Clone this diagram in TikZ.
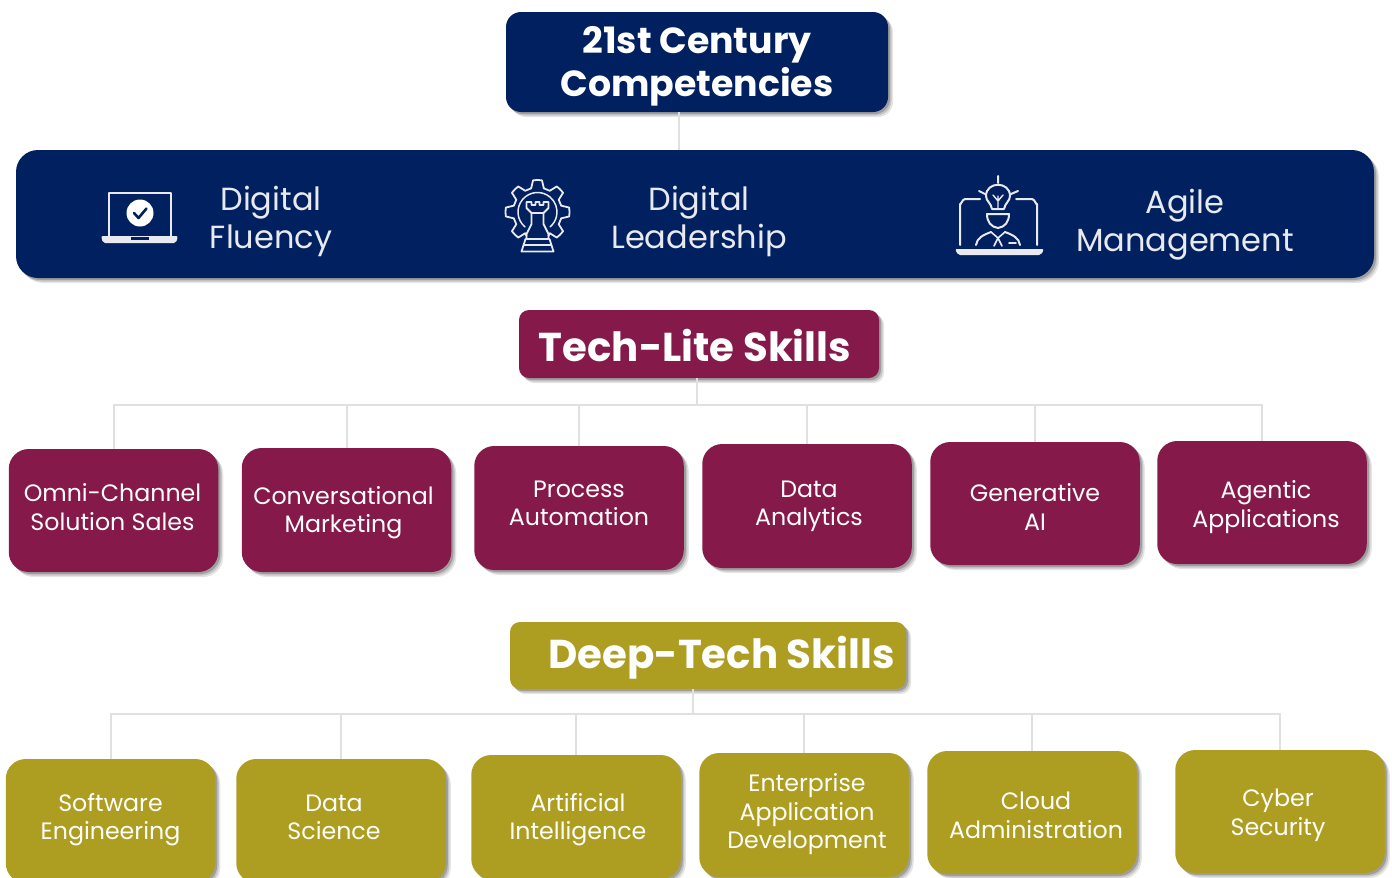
\documentclass[tikz,border=0pt]{standalone}
\usepackage{fontspec}
\setmainfont{Poppins}
\usetikzlibrary{shadows,calc}
\definecolor{navy}{HTML}{00205F}
\definecolor{maroon}{HTML}{85194A}
\definecolor{olive}{HTML}{AD9D20}
\definecolor{linkgrey}{HTML}{E0E0E0}
\definecolor{soft}{HTML}{E8EAF0}
% text lines inside a box, moved by dx,dy from the box centre
\newcommand\lines[3]{\hspace*{#1}\raisebox{#2}[0pt][0pt]{\begin{tabular}{@{}c@{}}#3\end{tabular}}}
\tikzset{
  softshadow/.style={
    general shadow={fill=black,opacity=.10,shadow xshift=5pt,shadow yshift=-5pt},
    general shadow={fill=black,opacity=.14,shadow xshift=3.5pt,shadow yshift=-3.5pt},
    general shadow={fill=black,opacity=.20,shadow xshift=2pt,shadow yshift=-2pt}},
  panel/.style={softshadow,rounded corners=#1,inner sep=0pt,outer sep=0pt,align=center,text=white},
  topbox/.style={panel=15pt,fill=navy,font=\fontsize{36.3}{43}\selectfont\bfseries},
  bandbox/.style={panel=22pt,fill=navy},
  bandtext/.style={text=soft,align=center,font=\fontsize{32}{38}\selectfont},
  headbox/.style={panel=10pt,font=\fontsize{40.3}{46}\selectfont\bfseries},
  skillbox/.style={panel=20pt,minimum width=209.5pt,font=\fontsize{23.7}{28.5}\selectfont},
  link/.style={draw=linkgrey,line width=2pt},
  icon/.style={draw=soft,line width=2pt,line cap=round,line join=round}
}
\begin{document}
\begin{tikzpicture}[x=1pt,y=-1pt]
\useasboundingbox (0,0) rectangle (1392,878);
% main boxes
\node[topbox,minimum width=382pt,minimum height=100pt] (top) at (697,62) {\lines{0pt}{-10.5pt}{21st Century\\Competencies}};
\node[bandbox,minimum width=1358pt,minimum height=128pt] (band) at (695,214) {};
\node[bandtext] (fluency) at (271,221) {Digital\\Fluency};
\node[bandtext] (leader) at (699,221) {Digital\\Leadership};
\node[bandtext] (agile) at (1185,225) {Agile\\Management};
\node[headbox,fill=maroon,minimum width=360pt,minimum height=68pt] (lite) at (699,344) {\hspace*{-8pt}\lines{0pt}{-14pt}{Tech-Lite Skills}};
\node[headbox,fill=olive,minimum width=396pt,minimum height=67pt] (deep) at (708,655.5) {\lines{27pt}{-10pt}{Deep-Tech Skills}};
% tech-lite row
\begin{scope}[every node/.append style={skillbox,fill=maroon}]
\node[minimum height=123pt] (l1) at (113.5,510.5) {\lines{-2pt}{-6pt}{Omni-Channel\\Solution Sales}};
\node[minimum height=124pt] (l2) at (346.5,510) {\lines{-6pt}{-9pt}{Conversational\\Marketing}};
\node[minimum height=124pt] (l3) at (579,508) {\lines{0pt}{-4pt}{Process\\Automation}};
\node[minimum height=124pt] (l4) at (807,506) {\lines{4pt}{-6pt}{Data\\Analytics}};
\node[minimum height=123pt] (l5) at (1035,503.5) {\lines{0pt}{-13pt}{Generative\\AI}};
\node[minimum height=123pt] (l6) at (1262,502.5) {\lines{8pt}{-11pt}{Agentic\\Applications}};
\end{scope}
% deep-tech row
\begin{scope}[every node/.append style={skillbox,fill=olive}]
\node[minimum height=124pt] (d1) at (110.5,821) {\lines{0pt}{-5pt}{Software\\Engineering}};
\node[minimum height=124pt] (d2) at (341,821) {\lines{-14pt}{-5pt}{Data\\Science}};
\node[minimum height=124pt] (d3) at (576,817) {\lines{4pt}{-9pt}{Artificial\\Intelligence}};
\node[minimum height=124pt] (d4) at (804,815) {\lines{6pt}{-6pt}{Enterprise\\Application\\Development}};
\node[minimum height=123pt] (d5) at (1032,812.5) {\lines{8pt}{-12pt}{Cloud\\Administration}};
\node[minimum height=123pt] (d6) at (1280,811.5) {\lines{-4pt}{-10pt}{Cyber\\Security}};
\end{scope}
% connectors
\coordinate (toplink) at (679,130);
\coordinate (litebus) at (697,405);
\coordinate (deepbus) at (693,714);
\draw[link] (top.south -| toplink) -- (band.north -| toplink);
\draw[link] (lite.south -| litebus) -- (litebus);
\draw[link] (deep.south -| deepbus) -- (deepbus);
\foreach \n in {l1,l2,l3,l4,l5,l6} \draw[link] (litebus) -| (\n.north);
\foreach \n in {d1,d2,d3,d4,d5,d6} \draw[link] (deepbus) -| (\n.north);
% laptop icon
\draw[icon,line width=2.8pt] (109,236) -- (109,193) -- (171,193) -- (171,236);
\fill[soft,rounded corners=2pt] (101,236) -- (178,236) -- (176,243) -- (103,243) -- cycle;
\fill[navy] (131,237) rectangle (149,239.5);
\fill[white] (140,213) circle (13.5);
\draw[navy,line width=2.6pt,line cap=round,line join=round] (134,213) -- (138.5,218) -- (146.5,208.5);
% gear and rook icon
\begin{scope}[shift={(537.5,212)}]
\draw[icon,line width=1.8pt]
  (-11,24) \foreach \a in {135,180,225,270,315,360,405}{
    -- ({\a-15}:24.5) -- ({\a-8}:32) arc[start angle={\a-8},end angle={\a+8},radius=32] -- ({\a+15}:24.5)
  } -- (11,24);
\draw[icon,line width=1.5pt] (130:19.5) arc[start angle=130,end angle=410,radius=19.5];
\draw[icon,line width=1.8pt] (-11,-10) -- (-11,-4) -- (-6,1) -- (-6,12) -- (-11,22) -- (-11,27) -- (11,27) -- (11,22) -- (6,12) -- (6,1) -- (11,-4) -- (11,-10) -- (6,-10) -- (6,-7) -- (2,-7) -- (2,-10) -- (-2,-10) -- (-2,-7) -- (-6,-7) -- (-6,-10) -- cycle;
\draw[icon,line width=1.8pt] (-12,27) -- (-16,39.5) -- (16,39.5) -- (12,27) (-13,33) -- (13,33) (-6,1) -- (6,1);
\end{scope}
% leader icon
\draw[icon] (980,199) -- (965,199) to[out=180,in=-90] (960,204) -- (960,245);
\draw[icon] (1016,199) -- (1032,199) to[out=0,in=-90] (1037,204) -- (1037,245);
\fill[soft,rounded corners=2pt] (955,249) -- (1044,249) -- (1041,255) -- (958,255) -- cycle;
\draw[icon] (998,176) -- (998,183) (979,191) -- (985,194) (1018,191) -- (1011,194);
\draw[icon] (992,209) .. controls (991,203) and (986,201) .. (986,196) .. controls (986,181) and (1010,181) .. (1010,196) .. controls (1010,201) and (1005,203) .. (1004,209) -- cycle;
\draw[icon,line width=1.4pt] (998,209) -- (998,196) (998,201) -- (993,195) (998,201) -- (1003,195);
\draw[icon] (987,214) -- (1009,214) .. controls (1009,222) and (1005,227) .. (998,228) .. controls (991,227) and (987,222) .. (987,214) -- cycle;
\draw[icon] (976,245) .. controls (977,238) and (983,235) .. (991,232) (1020,245) .. controls (1019,238) and (1013,235) .. (1005,232);
\draw[icon,line width=1.6pt] (991,232) -- (998,238) -- (1005,232) (998,238) -- (994,246) (998,238) -- (1002,246) (1009,243) -- (1016,243);
\end{tikzpicture}
\end{document}
